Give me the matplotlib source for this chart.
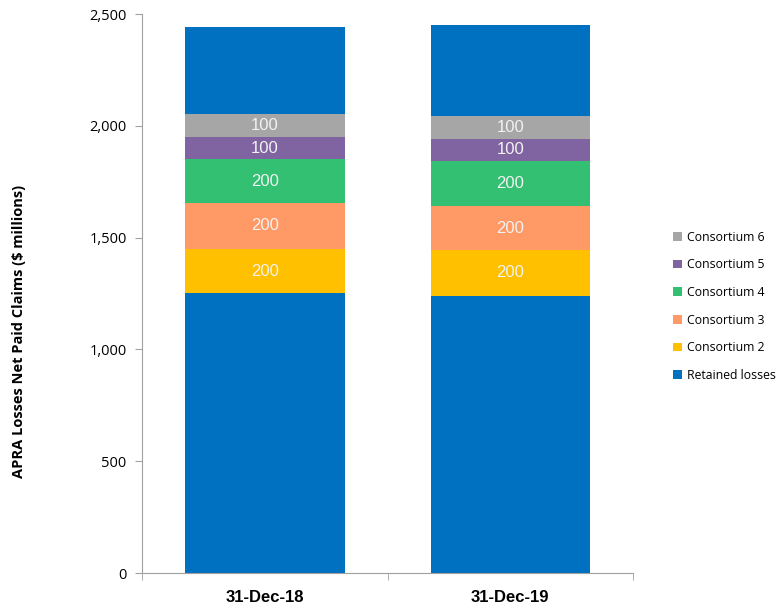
import numpy as np
import matplotlib.pyplot as plt
from matplotlib.ticker import FuncFormatter, FixedLocator

dates = ["31-Dec-18", "31-Dec-19"]
retained = [1252, 1240]
consortium_2 = [198, 205]
consortium_3 = [205, 196]
consortium_4 = [195, 203]
consortium_5 = [102, 97]
consortium_6 = [103, 102]
retained_upper = [389, 409]

shown = {
    "Consortium 2": [200, 200],
    "Consortium 3": [200, 200],
    "Consortium 4": [200, 200],
    "Consortium 5": [100, 100],
    "Consortium 6": [100, 100],
}

colors = {
    "Retained losses": "#0070C0",
    "Consortium 2": "#FFC000",
    "Consortium 3": "#FF9966",
    "Consortium 4": "#33C072",
    "Consortium 5": "#8064A2",
    "Consortium 6": "#A6A6A6",
}

plt.rcParams["font.family"] = ["Open Sans", "DejaVu Sans"]

fig = plt.figure(figsize=(7.79, 6.04), dpi=100)
ax = fig.add_axes([0.1823, 0.0513, 0.6304, 0.9252])

x = np.arange(len(dates))
width = 0.65
bottom = np.zeros(len(dates))

layers = [
    ("Retained losses", retained),
    ("Consortium 2", consortium_2),
    ("Consortium 3", consortium_3),
    ("Consortium 4", consortium_4),
    ("Consortium 5", consortium_5),
    ("Consortium 6", consortium_6),
]
handles = {}
for name, vals in layers:
    vals = np.array(vals, dtype=float)
    b = ax.bar(x, vals, width, bottom=bottom, color=colors[name], label=name)
    handles[name] = b
    if name in shown:
        for i in range(len(dates)):
            ax.text(x[i], bottom[i] + vals[i] / 2, str(shown[name][i]),
                    ha="center", va="center", color="#F2F2F2", fontsize=12,
                    family=["Liberation Sans"])
    bottom += vals

ax.bar(x, retained_upper, width, bottom=bottom, color=colors["Retained losses"])

ax.set_xlim(-0.5, 1.5)
ax.set_ylim(0, 2500)
ax.set_yticks(np.arange(0, 2501, 500))
ax.yaxis.set_major_formatter(FuncFormatter(lambda v, p: f"{int(v):,}"))
ax.set_xticks(x)
ax.set_xticklabels(dates, fontsize=12, fontweight="bold", family=["Liberation Sans"])
ax.xaxis.set_minor_locator(FixedLocator([-0.5, 0.5, 1.5]))
ax.tick_params(axis="x", which="major", length=0, pad=12)
ax.tick_params(axis="x", which="minor", length=5, color="#A0A0A0")
ax.tick_params(axis="y", length=5, color="#A0A0A0", labelsize=10.5, pad=6)

for s in ["top", "right"]:
    ax.spines[s].set_visible(False)
for s in ["left", "bottom"]:
    ax.spines[s].set_color("#A0A0A0")

ax.set_ylabel("APRA Losses Net Paid Claims ($ millions)", fontsize=10.5,
              fontweight="bold")
ax.yaxis.set_label_coords(-0.236, 0.433)

order = ["Consortium 6", "Consortium 5", "Consortium 4", "Consortium 3",
         "Consortium 2", "Retained losses"]
leg = fig.legend([handles[n] for n in order], order, loc="center left",
                 bbox_to_anchor=(0.85, 0.493), frameon=False, fontsize=8.8,
                 handlelength=0.7, handleheight=0.7, handletextpad=0.4,
                 labelspacing=1.2)

fig.savefig("out.png", dpi=100)
